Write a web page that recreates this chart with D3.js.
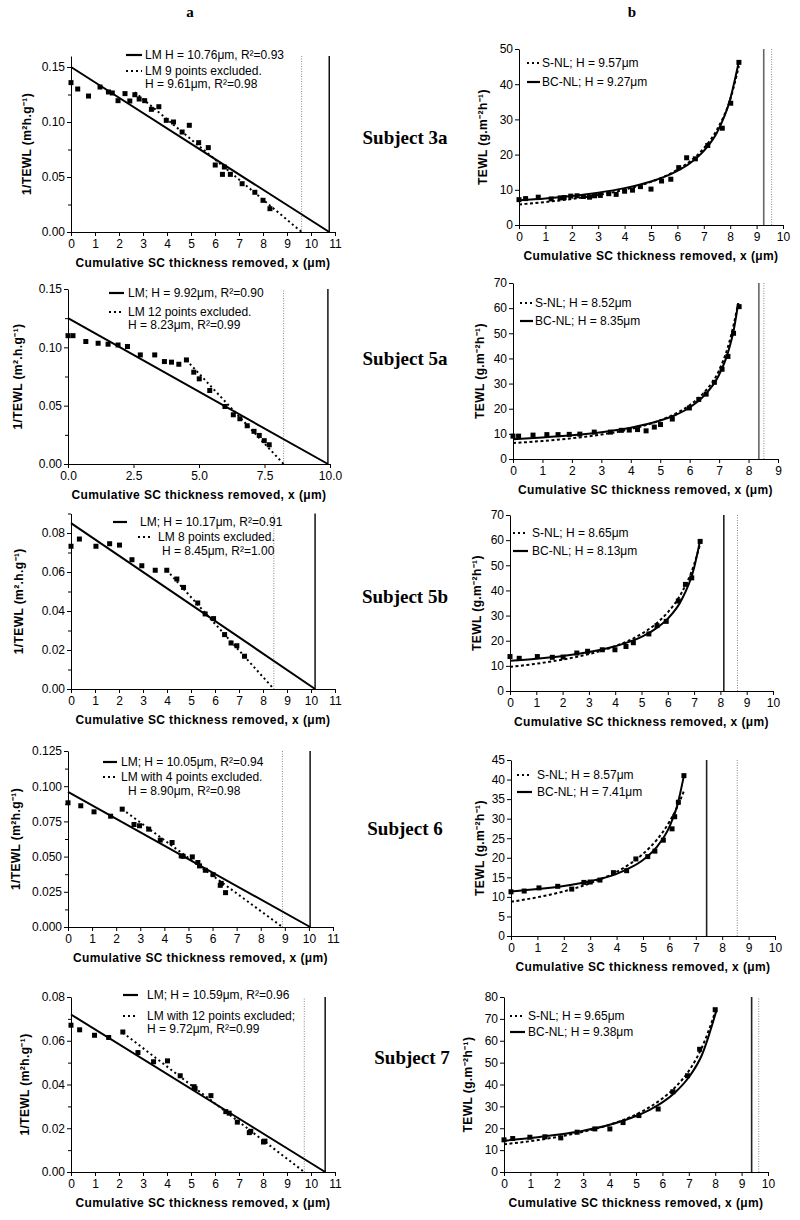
<!DOCTYPE html>
<html lang="en">
<head>
<meta charset="UTF-8">
<title>1/TEWL and TEWL vs cumulative SC thickness removed</title>
<script src="https://d3js.org/d3.v7.min.js"></script>
<style>
  body { margin: 0; background: #fff; }
  svg { display: block; font-family: "Liberation Sans", Arial, sans-serif; }
  .tick text { font-size: 12px; }
  .axlabel { font-weight: bold; font-size: 12px; letter-spacing: 0.4px; }
  .legend { font-size: 12px; }
  .subject { font-family: "Liberation Serif", "Times New Roman", serif; font-weight: bold; font-size: 19px; }
  .col { font-family: "Liberation Serif", "Times New Roman", serif; font-weight: bold; font-size: 15px; }
</style>
</head>
<body>
<svg id="chart" width="800" height="1220"></svg>
<script>
// ---------- data ----------
// Subject 3a
var x3a   = [0, 0.28, 0.73, 1.21, 1.56, 1.72, 1.96, 2.25, 2.45, 2.66, 2.84, 3.07, 3.35, 3.66, 3.97, 4.27, 4.63, 4.93, 5.32, 5.72, 6.01, 6.31, 6.39, 6.64, 7.13, 7.66, 8.00, 8.29];
var inv3a = [0.1358, 0.130, 0.1236, 0.1318, 0.1273, 0.1264, 0.1194, 0.1258, 0.1191, 0.1248, 0.1209, 0.1194, 0.1115, 0.1139, 0.1015, 0.1000, 0.0909, 0.0970, 0.0812, 0.0767, 0.0609, 0.0524, 0.0591, 0.0524, 0.0439, 0.0361, 0.0288, 0.0212];
var lm3a  = [[0, 0.150], [10.76, 0]];
var ex3a  = [[2.66, 0.127], [9.61, 0]];
var x3b    = [0, 0.25, 0.73, 1.22, 1.56, 1.71, 1.96, 2.2, 2.44, 2.67, 2.86, 3.08, 3.4, 3.68, 4.0, 4.3, 4.6, 5.0, 5.4, 5.75, 6.05, 6.35, 6.68, 7.15, 7.7, 8.02, 8.33];
var tewl3b = [7.2, 7.5, 7.9, 7.4, 7.7, 7.8, 8.2, 8.3, 8.1, 7.9, 8.3, 8.4, 8.9, 8.7, 9.6, 9.9, 10.9, 10.2, 12.5, 13.0, 16.3, 19.1, 18.8, 22.6, 27.5, 34.6, 46.2];
var snl3b = [[0, 5.85], [1, 6.53], [2, 7.40], [3, 8.52], [4, 10.05], [5, 12.25], [5.5, 13.76], [6, 15.7], [6.5, 18.2], [7, 21.8], [7.5, 27.1], [8, 35.7], [8.33, 45.2]];
var bc3b  = [[0, 7.0], [1, 7.55], [2, 8.26], [3, 9.19], [4, 10.47], [5, 12.35], [5.5, 13.66], [6, 15.38], [6.5, 17.7], [7, 21.07], [7.5, 26.3], [8, 35.75], [8.33, 46.5]];

// Subject 5a
var x5a   = [0, 0.19, 0.68, 1.15, 1.53, 1.91, 2.27, 2.76, 3.31, 3.68, 3.95, 4.23, 4.52, 4.80, 5.01, 5.41, 5.99, 6.31, 6.56, 6.84, 7.10, 7.30, 7.49, 7.68];
var inv5a = [0.110, 0.110, 0.105, 0.1035, 0.1027, 0.102, 0.1007, 0.0935, 0.0935, 0.0878, 0.0873, 0.0855, 0.0892, 0.0787, 0.073, 0.063, 0.0493, 0.0422, 0.0388, 0.0328, 0.028, 0.0245, 0.020, 0.0165];
var lm5a  = [[0, 0.125], [9.92, 0]];
var ex5a  = [[4.52, 0.089], [8.23, 0]];
var tewl5a = [9.1, 9.1, 9.5, 9.7, 9.7, 9.8, 9.9, 10.7, 10.7, 11.4, 11.5, 11.7, 11.2, 12.7, 13.7, 15.9, 20.3, 23.7, 25.8, 30.5, 35.7, 40.8, 50.0, 60.6];
var snl5a = [[0, 6.34], [1, 7.17], [2, 8.25], [3, 9.72], [4, 11.9], [5, 15.4], [5.5, 17.9], [6, 21.4], [6.5, 26.6], [7, 35.3], [7.3, 44.6], [7.5, 53.7], [7.65, 62]];
var bc5a  = [[0, 7.9], [1, 8.57], [2, 9.45], [3, 10.67], [4, 12.45], [5, 15.3], [5.5, 17.4], [6, 20.5], [6.5, 25.3], [7, 33.5], [7.3, 42.3], [7.5, 51.5], [7.65, 62]];

// Subject 5b
var x5b   = [0, 0.35, 1.04, 1.61, 2.02, 2.54, 2.95, 3.51, 3.99, 4.41, 4.69, 5.28, 5.59, 5.94, 6.40, 6.67, 6.91, 7.23];
var inv5b = [0.0732, 0.0769, 0.0732, 0.0745, 0.0738, 0.0663, 0.0632, 0.0609, 0.0609, 0.0564, 0.0521, 0.0441, 0.0385, 0.0361, 0.0279, 0.0236, 0.0222, 0.0168];
var lm5b  = [[0, 0.0851], [10.17, 0]];
var ex5b  = [[3.99, 0.0609], [8.45, 0]];
var tewl5b = [13.7, 13.0, 13.7, 13.4, 13.5, 15.1, 15.8, 16.4, 16.4, 17.7, 19.2, 22.7, 26.0, 27.7, 35.8, 42.4, 45.0, 59.5];
var snl5b = [[0, 9.6], [1, 10.85], [2, 12.5], [3, 14.7], [4, 17.85], [5, 22.7], [5.5, 26.3], [6, 31.3], [6.5, 38.6], [7, 50.3], [7.23, 58.5]];
var bc5b  = [[0, 12.0], [1, 12.8], [2, 13.9], [3, 15.5], [4, 17.8], [5, 21.5], [5.5, 24.5], [6, 28.8], [6.5, 35.8], [7, 49.0], [7.23, 60]];

// Subject 6
var x6a   = [0, 0.53, 1.08, 1.77, 2.25, 2.74, 2.97, 3.35, 3.83, 4.32, 4.70, 4.78, 5.16, 5.39, 5.46, 5.70, 6.02, 6.32, 6.36, 6.54];
var inv6a = [0.0882, 0.0861, 0.0818, 0.0787, 0.0837, 0.0728, 0.0719, 0.0695, 0.0617, 0.060, 0.0505, 0.0502, 0.0498, 0.0458, 0.0434, 0.0403, 0.0372, 0.0296, 0.031, 0.0244];
var lm6a  = [[0, 0.096], [10.05, 0]];
var ex6a  = [[2.25, 0.0837], [8.90, 0]];
var x6b    = [0, 0.5, 1.06, 1.77, 2.3, 2.76, 3.0, 3.37, 3.88, 4.38, 4.73, 5.18, 5.45, 5.77, 6.1, 6.2, 6.34, 6.55];
var tewl6b = [11.3, 11.5, 12.3, 12.7, 12.0, 13.7, 13.8, 14.3, 16.2, 16.7, 19.7, 20.3, 21.7, 24.5, 27.4, 30.5, 34.2, 41.0];
var snl6b = [[0, 8.75], [1, 9.9], [2, 11.4], [3, 13.5], [4, 16.4], [4.5, 18.4], [5, 21.0], [5.5, 24.4], [6, 29.2], [6.3, 33.0], [6.55, 37.1]];
var bc6b  = [[0, 11.4], [1, 12.0], [2, 12.8], [3, 14.0], [4, 15.9], [4.5, 17.4], [5, 19.45], [5.5, 22.6], [6, 27.9], [6.3, 33.4], [6.55, 41.0]];

// Subject 7
var x7a   = [0, 0.36, 0.98, 1.57, 2.16, 2.79, 3.44, 4.02, 4.55, 5.13, 5.17, 5.83, 6.45, 6.59, 6.93, 7.43, 7.49, 8.02, 8.08];
var inv7a = [0.0671, 0.065, 0.0625, 0.0615, 0.064, 0.0546, 0.0504, 0.0508, 0.044, 0.039, 0.0382, 0.0349, 0.0276, 0.0269, 0.0228, 0.018, 0.0186, 0.0137, 0.0141];
var lm7a  = [[0, 0.072], [10.59, 0]];
var ex7a  = [[2.16, 0.0637], [9.72, 0]];
var x7b    = [0, 0.33, 0.98, 1.55, 2.15, 2.77, 3.44, 4.01, 4.51, 5.11, 5.84, 6.4, 6.95, 7.41, 8.0];
var tewl7b = [14.7, 15.3, 15.9, 16.1, 15.6, 18.2, 19.7, 19.7, 22.6, 25.8, 28.8, 36.7, 44.0, 56.1, 74.2];
var snl7b = [[0, 12.7], [1, 14.1], [2, 16.0], [3, 18.4], [4, 21.6], [5, 26.3], [5.5, 29.5], [6, 33.6], [6.5, 38.9], [7, 46.2], [7.5, 57.0], [8.05, 75]];
var bc7b  = [[0, 14.3], [1, 15.5], [2, 17.0], [3, 18.9], [4, 21.6], [5, 25.6], [5.5, 28.3], [6, 31.8], [6.5, 36.6], [7, 43.3], [7.5, 53.6], [8.05, 74.0]];

// H values (x-intercepts) shown as vertical lines: [solid, dotted]
var hLeft  = [[10.76, 9.61], [9.92, 8.23], [10.17, 8.45], [10.05, 8.90], [10.59, 9.72]];
var hRight = [[9.27, 9.57], [8.35, 8.52], [8.13, 8.65], [7.41, 8.57], [9.38, 9.65]];

var subjects = ["Subject 3a", "Subject 5a", "Subject 5b", "Subject 6", "Subject 7"];
var xTitle = "Cumulative SC thickness removed, x (\u03bcm)";
var leftLegends = [
  ["LM H = 10.76\u03bcm, R\u00b2=0.93", "LM 9 points excluded.", "H = 9.61\u03bcm, R\u00b2=0.98"],
  ["LM;  H = 9.92\u03bcm, R\u00b2=0.90", "LM 12 points excluded.", "H = 8.23\u03bcm, R\u00b2=0.99"],
  ["LM; H = 10.17\u03bcm, R\u00b2=0.91", "LM 8 points excluded.", "H = 8.45\u03bcm, R\u00b2=1.00"],
  ["LM; H = 10.05\u03bcm, R\u00b2=0.94", "LM with 4 points excluded.", "H = 8.90\u03bcm, R\u00b2=0.98"],
  ["LM; H = 10.59\u03bcm, R\u00b2=0.96", "LM with 12 points excluded;", "H = 9.72\u03bcm, R\u00b2=0.99"]
];
var rightLegends = [
  ["S-NL; H = 9.57\u03bcm", "BC-NL; H = 9.27\u03bcm"],
  ["S-NL; H = 8.52\u03bcm", "BC-NL; H = 8.35\u03bcm"],
  ["S-NL; H = 8.65\u03bcm", "BC-NL; H = 8.13\u03bcm"],
  ["S-NL; H = 8.57\u03bcm", "BC-NL; H = 7.41\u03bcm"],
  ["S-NL; H = 9.65\u03bcm", "BC-NL; H = 9.38\u03bcm"]
];
var leftYTitles = ["1/TEWL (m\u00b2h.g\u207b\u00b9)", "1/TEWL (m\u00b2.h.g\u207b\u00b9)", "1/TEWL (m\u00b2.h.g\u207b\u00b9)", "1/TEWL (m\u00b2h.g\u207b\u00b9)", "1/TEWL (m\u00b2h.g\u207b\u00b9)"];
var rightYTitle = "TEWL (g.m\u207b\u00b2h\u207b\u00b9)";

// ---------- layout ----------
var leftPanels = [
  {xs: x3a, ys: inv3a, lm: lm3a, ex: ex3a, left: 71, right: 335, top: 56, bottom: 232, xMax: 11, yMax: 0.16,
   yTicks: [0, 0.05, 0.10, 0.15], yMinor: [0.025, 0.075, 0.125], yFmt: ".2f", xFmt: "d", xTicks: d3.range(0, 12), ylx: 27,
   leg: [{y: 55, x1: 126, x2: 142, tx: 145, s: "solid"}, {y: 71, x1: 126, x2: 142, tx: 145, s: "dot"}, {y: 84, tx: 145}]},
  {xs: x5a, ys: inv5a, lm: lm5a, ex: ex5a, left: 68, right: 330, top: 289, bottom: 464, xMax: 10, yMax: 0.15,
   yTicks: [0, 0.05, 0.10, 0.15], yMinor: [0.025, 0.075, 0.125], yFmt: ".2f", xFmt: ".1f", xTicks: [0, 2.5, 5, 7.5, 10], ylx: 18,
   leg: [{y: 293, x1: 109, x2: 124, tx: 128, s: "solid"}, {y: 312, x1: 109, x2: 124, tx: 128, s: "dot"}, {y: 325, tx: 128}]},
  {xs: x5b, ys: inv5b, lm: lm5b, ex: ex5b, left: 71, right: 335, top: 513.5, bottom: 689, xMax: 11, yMax: 0.09,
   yTicks: [0, 0.02, 0.04, 0.06, 0.08], yMinor: [0.01, 0.03, 0.05, 0.07, 0.09], yFmt: ".2f", xFmt: "d", xTicks: d3.range(0, 12), ylx: 19,
   leg: [{y: 522, x1: 113, x2: 127, tx: 140, s: "solid"}, {y: 537, x1: 138, x2: 153, tx: 158, s: "dot"}, {y: 551, tx: 162}]},
  {xs: x6a, ys: inv6a, lm: lm6a, ex: ex6a, left: 68, right: 333, top: 751, bottom: 927, xMax: 11, yMax: 0.125,
   yTicks: [0, 0.025, 0.05, 0.075, 0.1, 0.125], yMinor: [0.0125, 0.0375, 0.0625, 0.0875, 0.1125], yFmt: ".3f", xFmt: "d", xTicks: d3.range(0, 12), ylx: 16,
   leg: [{y: 762, x1: 103, x2: 117, tx: 121, s: "solid"}, {y: 777, x1: 103, x2: 117, tx: 121, s: "dot"}, {y: 791, tx: 128}]},
  {xs: x7a, ys: inv7a, lm: lm7a, ex: ex7a, left: 71, right: 335, top: 997, bottom: 1172, xMax: 11, yMax: 0.08,
   yTicks: [0, 0.02, 0.04, 0.06, 0.08], yMinor: [0.01, 0.03, 0.05, 0.07], yFmt: ".2f", xFmt: "d", xTicks: d3.range(0, 12), ylx: 25,
   leg: [{y: 995, x1: 123, x2: 138, tx: 147, s: "solid"}, {y: 1016, x1: 123, x2: 138, tx: 147, s: "dot"}, {y: 1029, tx: 147}]}
];
var rightPanels = [
  {xs: x3b, ys: tewl3b, snl: snl3b, bc: bc3b, left: 519, right: 783, top: 49, bottom: 225, xMax: 10, yMax: 50, yStep: 10, ylx: 483, vcol: "#666",
   leg: [{y: 63, x1: 527, x2: 540, tx: 542, s: "dot"}, {y: 82, x1: 527, x2: 540, tx: 542, s: "solid"}]},
  {xs: x5a, ys: tewl5a, snl: snl5a, bc: bc5a, left: 513, right: 778, top: 283, bottom: 459, xMax: 9, yMax: 70, yStep: 10, ylx: 480, vcol: "#666",
   leg: [{y: 303, x1: 520, x2: 533, tx: 535, s: "dot"}, {y: 321, x1: 520, x2: 533, tx: 535, s: "solid"}]},
  {xs: x5b, ys: tewl5b, snl: snl5b, bc: bc5b, left: 510, right: 773, top: 515, bottom: 691, xMax: 10, yMax: 70, yStep: 10, ylx: 477, vcol: "#222",
   leg: [{y: 533, x1: 513, x2: 528, tx: 532, s: "dot"}, {y: 551, x1: 513, x2: 528, tx: 532, s: "solid"}]},
  {xs: x6b, ys: tewl6b, snl: snl6b, bc: bc6b, left: 511, right: 775, top: 760, bottom: 936, xMax: 10, yMax: 45, yStep: 5, ylx: 480, vcol: "#222",
   leg: [{y: 775, x1: 517, x2: 532, tx: 537, s: "dot"}, {y: 792, x1: 517, x2: 532, tx: 537, s: "solid"}]},
  {xs: x7b, ys: tewl7b, snl: snl7b, bc: bc7b, left: 504, right: 768, top: 997, bottom: 1172, xMax: 10, yMax: 80, yStep: 10, ylx: 468, vcol: "#222",
   leg: [{y: 1016, x1: 510, x2: 525, tx: 528, s: "dot"}, {y: 1032, x1: 510, x2: 525, tx: 528, s: "solid"}]}
];
var subjectPos = [[405, 137], [405, 358], [405, 596], [405, 828], [412, 1057]];

var svg = d3.select("#chart");
svg.append("rect").attr("width", 800).attr("height", 1220).attr("fill", "#fff");

function dashFor(s) { return s === "dot" ? "2,3" : null; }

function drawAxes(g, p, x, y, yTicks, yFmt, xTicks, xFmt, yMinor) {
  var xa = g.append("g").attr("transform", "translate(0," + p.bottom + ")")
    .call(d3.axisBottom(x).tickValues(xTicks).tickFormat(d3.format(xFmt)).tickSize(4).tickPadding(3).tickSizeOuter(0));
  var ya = g.append("g").attr("transform", "translate(" + p.left + ",0)")
    .call(d3.axisLeft(y).tickValues(yTicks).tickFormat(d3.format(yFmt)).tickSize(4).tickPadding(2).tickSizeOuter(0));
  [xa, ya].forEach(function(a) {
    a.attr("font-family", null).attr("font-size", null);
    a.selectAll("path, line").attr("stroke", "#000");
    a.selectAll("text").attr("fill", "#000");
  });
  if (yMinor) {
    var ym = g.append("g").attr("transform", "translate(" + p.left + ",0)")
      .call(d3.axisLeft(y).tickValues(yMinor).tickFormat("").tickSize(3));
    ym.select(".domain").remove();
    ym.selectAll("line").attr("stroke", "#000");
  }
  g.append("text").attr("class", "axlabel")
    .attr("x", (p.left + p.right) / 2).attr("y", p.bottom + 35)
    .attr("text-anchor", "middle").text(xTitle);
}

function drawPoints(g, p, x, y) {
  g.selectAll("rect.pt").data(d3.zip(p.xs, p.ys)).join("rect")
    .attr("class", "pt")
    .attr("x", function(d) { return x(d[0]) - 2.5; })
    .attr("y", function(d) { return y(d[1]) - 2.5; })
    .attr("width", 5).attr("height", 5).attr("fill", "#000");
}

function drawLegend(g, rows, texts) {
  rows.forEach(function(r, i) {
    if (r.s) {
      g.append("line").attr("x1", r.x1).attr("x2", r.x2).attr("y1", r.y).attr("y2", r.y)
        .attr("stroke", "#000").attr("stroke-width", 2.2).attr("stroke-dasharray", dashFor(r.s));
    }
    g.append("text").attr("class", "legend").attr("x", r.tx).attr("y", r.y).attr("dy", "0.35em").text(texts[i]);
  });
}

function yTitle(g, cx, cy, t) {
  g.append("text").attr("class", "axlabel")
    .attr("transform", "translate(" + cx + "," + cy + ") rotate(-90)")
    .attr("text-anchor", "middle").attr("dy", "0.35em").text(t);
}

leftPanels.forEach(function(p, i) {
  var g = svg.append("g");
  var x = d3.scaleLinear().domain([0, p.xMax]).range([p.left, p.right]);
  var y = d3.scaleLinear().domain([0, p.yMax]).range([p.bottom, p.top]);
  var line = d3.line().x(function(d) { return x(d[0]); }).y(function(d) { return y(d[1]); });
  // H markers
  g.append("line").attr("x1", x(hLeft[i][1])).attr("x2", x(hLeft[i][1])).attr("y1", y(0)).attr("y2", y(p.yMax))
    .attr("stroke", "#888").attr("stroke-width", 1).attr("stroke-dasharray", "1,1.5");
  g.append("line").attr("x1", x(hLeft[i][0])).attr("x2", x(hLeft[i][0])).attr("y1", y(0)).attr("y2", y(p.yMax))
    .attr("stroke", "#000").attr("stroke-width", 1.4);
  g.append("path").attr("d", line(p.lm)).attr("fill", "none").attr("stroke", "#000").attr("stroke-width", 2);
  g.append("path").attr("d", line(p.ex)).attr("fill", "none").attr("stroke", "#000").attr("stroke-width", 2)
    .attr("stroke-dasharray", "2,3");
  drawPoints(g, p, x, y);
  drawAxes(g, p, x, y, p.yTicks, p.yFmt, p.xTicks, p.xFmt, p.yMinor);
  yTitle(g, p.ylx, (p.top + p.bottom) / 2, leftYTitles[i]);
  drawLegend(g, p.leg, leftLegends[i]);
});

rightPanels.forEach(function(p, i) {
  var g = svg.append("g");
  var x = d3.scaleLinear().domain([0, p.xMax]).range([p.left, p.right]);
  var y = d3.scaleLinear().domain([0, p.yMax]).range([p.bottom, p.top]);
  var curve = d3.line().curve(d3.curveMonotoneX)
    .x(function(d) { return x(d[0]); }).y(function(d) { return y(d[1]); });
  g.append("line").attr("x1", x(hRight[i][1])).attr("x2", x(hRight[i][1])).attr("y1", y(0)).attr("y2", y(p.yMax))
    .attr("stroke", "#888").attr("stroke-width", 1).attr("stroke-dasharray", "1,1.5");
  g.append("line").attr("x1", x(hRight[i][0])).attr("x2", x(hRight[i][0])).attr("y1", y(0)).attr("y2", y(p.yMax))
    .attr("stroke", p.vcol).attr("stroke-width", 1.6);
  g.append("path").attr("d", curve(p.snl)).attr("fill", "none").attr("stroke", "#000").attr("stroke-width", 2)
    .attr("stroke-dasharray", "3,2.5");
  g.append("path").attr("d", curve(p.bc)).attr("fill", "none").attr("stroke", "#000").attr("stroke-width", 2);
  drawPoints(g, p, x, y);
  drawAxes(g, p, x, y, d3.range(0, p.yMax + 0.1, p.yStep), "d", d3.range(0, p.xMax + 1), "d", null);
  yTitle(g, p.ylx, (p.top + p.bottom) / 2, rightYTitle);
  drawLegend(g, p.leg, rightLegends[i]);
});

subjects.forEach(function(s, i) {
  svg.append("text").attr("class", "subject").attr("x", subjectPos[i][0]).attr("y", subjectPos[i][1])
    .attr("dy", "0.35em").attr("text-anchor", "middle").text(s);
});
svg.append("text").attr("class", "col").attr("x", 190).attr("y", 17).attr("text-anchor", "middle").text("a");
svg.append("text").attr("class", "col").attr("x", 632).attr("y", 17).attr("text-anchor", "middle").text("b");
</script>
</body>
</html>
